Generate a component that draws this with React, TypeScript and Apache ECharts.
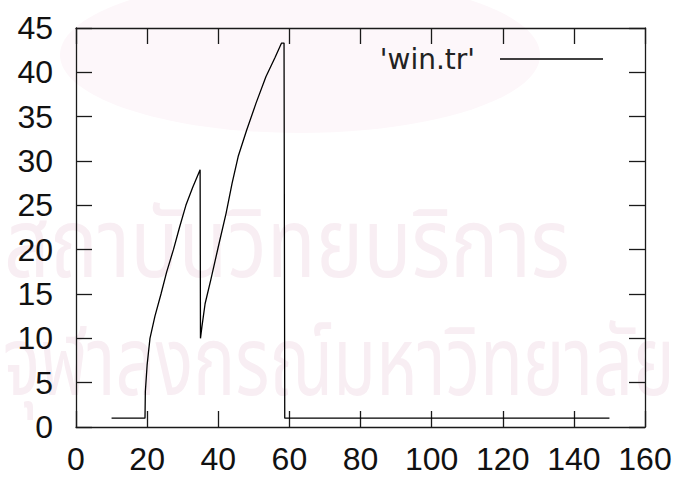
import React, { useEffect, useRef } from "react";
import * as echarts from "echarts";

const seriesName = "'win.tr'";
const xTicks = { min: 0, max: 160, interval: 20 };
const yTicks = { min: 0, max: 45, interval: 5 };

// congestion window trace
const winX = [
  10.0, 19.4, 19.5, 20.0, 20.8, 22.2, 23.9, 25.5, 27.4, 29.1, 30.9, 32.8, 34.9,
  35.0, 35.4, 36.3, 37.9, 40.0, 42.2, 43.9, 45.6, 48.0, 50.6, 53.4, 56.0, 57.8,
  58.5, 58.7, 150.0,
];
const winY = [
  1.0, 1.0, 4.0, 7.0, 10.0, 12.5, 15.0, 17.5, 20.0, 22.5, 25.0, 27.0, 29.0,
  10.0, 11.3, 13.9, 16.6, 20.3, 24.1, 27.5, 30.5, 33.5, 36.5, 39.5, 41.7, 43.3,
  43.3, 1.0, 1.0,
];

const watermarkLine1 = "สถาบันวิทยบริการ";
const watermarkLine2 = "จุฬาลงกรณ์มหาวิทยาลัย";

const thaiFont = '"Noto Sans Thai", "Noto Sans Thai Looped", Loma, Garuda, Norasi, "TlwgTypo", "Noto Sans", sans-serif';

function measure(text: string, size: number): number {
  const c = document.createElement("canvas").getContext("2d");
  if (!c) return text.length * size * 0.5;
  c.font = `${size}px ${thaiFont}`;
  return c.measureText(text).width || text.length * size * 0.5;
}

export default function App() {
  const ref = useRef<HTMLDivElement>(null);
  useEffect(() => {
    if (!ref.current) return;
    const chart = echarts.init(ref.current, undefined, { renderer: "svg" });
    const data = winX.map((x, i) => [x, winY[i]]);
    const wmSize = 96;
    const w1 = measure(watermarkLine1, wmSize);
    const w2 = measure(watermarkLine2, wmSize);
    const sx1 = 566 / w1;
    const sx2 = 672 / w2;
    const axisColor = "#1a1a1a";
    const labelFont = '"Liberation Sans", Arial, sans-serif';
    const baseX = {
      type: "value" as const,
      min: xTicks.min,
      max: xTicks.max,
      interval: xTicks.interval,
      axisLine: { show: true, onZero: false, lineStyle: { color: axisColor, width: 1.3 } },
      axisTick: { show: true, inside: true, length: 16, lineStyle: { color: axisColor, width: 1.3 } },
      splitLine: { show: false },
    };
    const baseY = {
      type: "value" as const,
      min: yTicks.min,
      max: yTicks.max,
      interval: yTicks.interval,
      axisLine: { show: true, onZero: false, lineStyle: { color: axisColor, width: 1.3 } },
      axisTick: { show: true, inside: true, length: 16, lineStyle: { color: axisColor, width: 1.3 } },
      splitLine: { show: false },
    };
    chart.setOption({
      animation: false,
      backgroundColor: "#ffffff",
      grid: { left: 76, right: 34, top: 28, bottom: 52 },
      graphic: [
        {
          type: "ellipse",
          silent: true,
          z: -10,
          shape: { cx: 300, cy: 55, rx: 240, ry: 78 },
          style: { fill: "#fdf7fa" },
        },
        {
          type: "text",
          silent: true,
          z: -5,
          x: 4,
          y: 200,
          scaleX: sx1,
          style: {
            text: watermarkLine1,
            fontSize: wmSize,
            fontFamily: thaiFont,
            fill: "#f8eef3",
            textAlign: "left",
            textVerticalAlign: "top",
          },
        },
        {
          type: "text",
          silent: true,
          z: -5,
          x: 3,
          y: 318,
          scaleX: sx2,
          style: {
            text: watermarkLine2,
            fontSize: wmSize,
            fontFamily: thaiFont,
            fill: "#f8eef3",
            textAlign: "left",
            textVerticalAlign: "top",
          },
        },
      ],
      legend: {
        show: true,
        right: 76,
        top: 45,
        padding: 0,
        align: "right",
        itemWidth: 103,
        itemHeight: 1.5,
        data: [{ name: seriesName, icon: "rect" }],
        textStyle: {
          fontFamily: '"DejaVu Sans", sans-serif',
          fontSize: 28,
          color: "#222",
          padding: [0, 20, 0, 0],
        },
      },
      xAxis: [
        {
          ...baseX,
          position: "bottom",
          axisLabel: { show: true, fontSize: 32, color: "#111", fontFamily: labelFont, margin: 16 },
        },
        { ...baseX, position: "top", axisLabel: { show: false } },
      ],
      yAxis: [
        {
          ...baseY,
          position: "left",
          axisLabel: { show: true, fontSize: 32, color: "#111", fontFamily: labelFont, margin: 23 },
        },
        { ...baseY, position: "right", axisLabel: { show: false } },
      ],
      series: [
        {
          name: seriesName,
          type: "line",
          xAxisIndex: 0,
          yAxisIndex: 0,
          data,
          showSymbol: false,
          symbol: "none",
          lineStyle: { color: "#000", width: 1.3 },
          itemStyle: { color: "#000" },
        },
      ],
    });
    return () => chart.dispose();
  }, []);
  return <div ref={ref} style={{ width: 679, height: 479, position: "absolute", left: 0, top: 0 }} />;
}
